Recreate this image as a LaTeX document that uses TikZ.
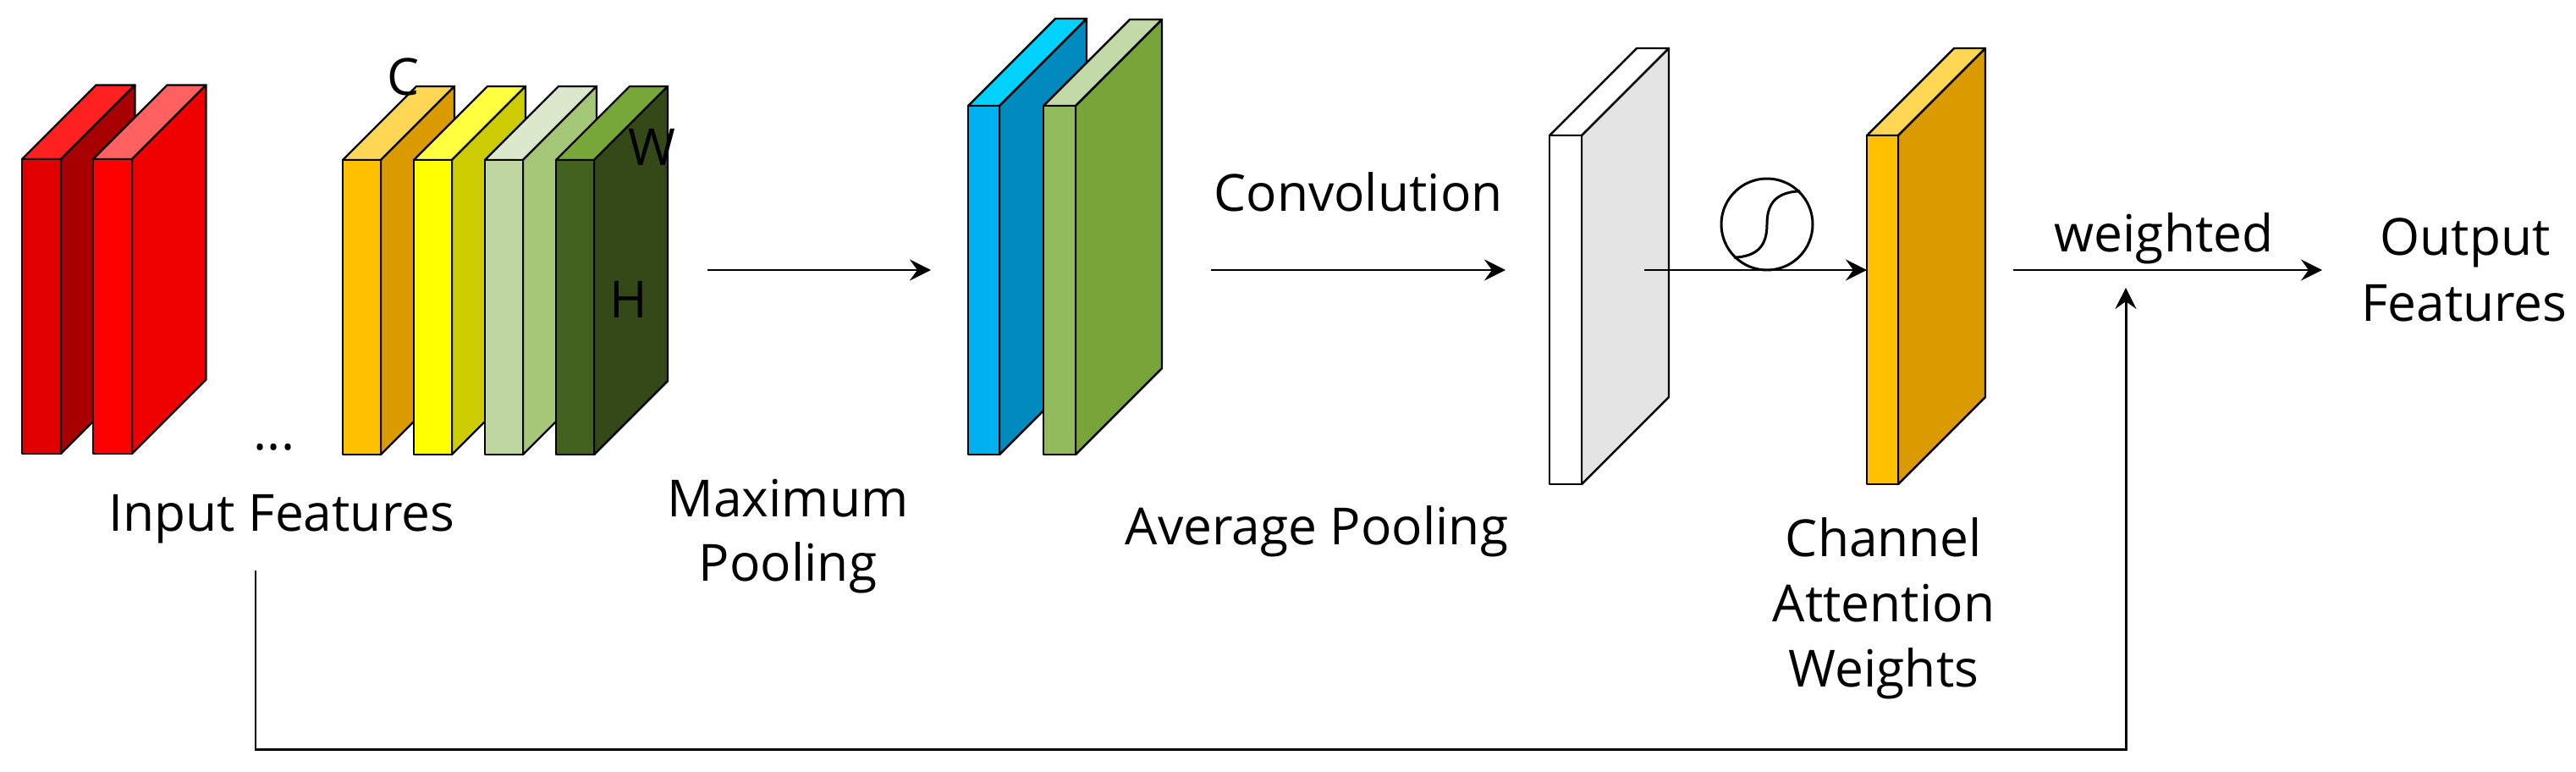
\documentclass[tikz,border=0pt]{standalone}
\usepackage{fontspec}
\setmainfont{Open Sans}
\usetikzlibrary{positioning,calc,arrows.meta}
\definecolor{rA}{RGB}{224,0,0}
\definecolor{rAs}{RGB}{168,0,0}
\definecolor{rAt}{RGB}{255,32,32}
\definecolor{rB}{RGB}{255,0,0}
\definecolor{rBs}{RGB}{238,0,0}
\definecolor{rBt}{RGB}{255,96,96}
\definecolor{oF}{RGB}{255,192,0}
\definecolor{oS}{RGB}{218,154,0}
\definecolor{oT}{RGB}{255,215,85}
\definecolor{yF}{RGB}{255,255,0}
\definecolor{yS}{RGB}{204,204,0}
\definecolor{yT}{RGB}{255,255,64}
\definecolor{lF}{RGB}{190,215,160}
\definecolor{lS}{RGB}{165,200,120}
\definecolor{lT}{RGB}{219,232,203}
\definecolor{gF}{RGB}{68,98,31}
\definecolor{gS}{RGB}{53,72,23}
\definecolor{gT}{RGB}{120,168,58}
\definecolor{bF}{RGB}{0,176,240}
\definecolor{bS}{RGB}{0,138,190}
\definecolor{bT}{RGB}{0,210,255}
\definecolor{mF}{RGB}{146,188,92}
\definecolor{mS}{RGB}{120,165,58}
\definecolor{mT}{RGB}{194,218,168}
\definecolor{wS}{RGB}{228,228,228}

% name, x, y of front bottom left, front width, height, depth, colours front/top/side
\newcommand{\slab}[9]{
  \draw[face,fill=#8] (#2+#6,#3+#5+#6) -- ++(#4,0) -- ++(-#6,-#6) -- ++(-#4,0) -- cycle;
  \draw[face,fill=#9] (#2+#4,#3) -- ++(#6,#6) -- ++(0,#5) -- ++(-#6,-#6) -- cycle;
  \node[face,fill=#7,minimum width=#4 cm,minimum height=#5 cm,anchor=south west,inner sep=0pt,outer sep=0pt] (#1) at (#2,#3) {};
}

\begin{document}
\begin{tikzpicture}[
  font=\fontsize{17.2pt}{21pt}\selectfont,
  face/.style={draw=black,line width=0.7pt,line join=round},
  lbl/.style={align=center,inner sep=0pt,anchor=base},
  flow/.style={-{Stealth[length=2.5mm,width=2.5mm,inset=0.9mm]},line width=0.85pt,draw=black},
]
\useasboundingbox (0,0) rectangle (30.44,9.11);

% ---- input feature slabs ----
\slab{redA}{0.26}{3.75}{0.46}{3.48}{0.875}{rA}{rAt}{rAs}
\slab{redB}{1.10}{3.75}{0.46}{3.48}{0.875}{rB}{rBt}{rBs}
\slab{orgA}{4.05}{3.74}{0.45}{3.48}{0.87}{oF}{oT}{oS}
\slab{yelA}{4.89}{3.74}{0.45}{3.48}{0.87}{yF}{yT}{yS}
\slab{lgrA}{5.73}{3.74}{0.45}{3.48}{0.87}{lF}{lT}{lS}
\slab{dgrA}{6.57}{3.74}{0.45}{3.48}{0.87}{gF}{gT}{gS}

% ---- pooled slabs ----
\slab{bluA}{11.44}{3.74}{0.37}{4.12}{1.03}{bF}{bT}{bS}
\slab{grnA}{12.33}{3.74}{0.38}{4.12}{1.02}{mF}{mT}{mS}

% ---- convolution output and weights ----
\slab{whtA}{18.31}{3.39}{0.38}{4.12}{1.03}{white}{white}{wS}
\slab{wgtA}{22.06}{3.39}{0.37}{4.12}{1.03}{oF}{oT}{oS}

% ---- labels ----
\node[lbl] (lC) at (4.77,7.99) {C};
\node[lbl] (lW) at (7.70,7.16) {W};
\node[lbl] (lH) at (7.43,5.36) {H};
\node[lbl] (dots) at (3.24,3.80) {...};
\node[lbl] (inp) at (3.33,2.84) {Input Features};
\node[lbl] (mp1) at (9.31,3.01) {Maximum};
\node[lbl] (mp2) at (9.31,2.25) {Pooling};
\node[lbl] (conv) at (16.05,6.62) {Convolution};
\node[lbl] (avg) at (15.56,2.68) {Average Pooling};
\node[lbl] (caw1) at (22.26,2.54) {Channel};
\node[lbl] (caw2) at (22.26,1.77) {Attention};
\node[lbl] (caw3) at (22.26,1.00) {Weights};
\node[lbl] (wtd) at (25.57,6.14) {weighted};
\node[lbl] (out1) at (29.13,6.10) {Output};
\node[lbl] (out2) at (29.12,5.32) {Features};

% ---- sigmoid symbol ----
\node[circle,draw,line width=0.85pt,minimum size=1.08cm,inner sep=0pt] (sig) at (20.88,6.46) {};
\draw[line width=0.85pt] (sig.225) .. controls (20.78,6.08) and (20.88,6.22) .. (sig.center) .. controls (20.88,6.70) and (20.98,6.84) .. (sig.45);

% ---- arrows ----
\coordinate (a1s) at (8.36,5.92);
\coordinate (a1e) at (11.00,5.92);
\coordinate (a2s) at (14.31,5.92);
\coordinate (a2e) at (17.79,5.92);
\coordinate (a3s) at (19.43,5.92);
\coordinate (a4s) at (23.79,5.92);
\coordinate (a4e) at (27.44,5.92);
\coordinate (fbs) at (3.02,2.37);
\coordinate (fbe) at (25.12,5.71);
\draw[flow] (a1s) -- (a1e);
\draw[flow] (a2s) -- (a2e);
\draw[flow] (a3s) -- (wgtA.west |- a3s);
\draw[flow] (a4s) -- (a4e);
\draw[flow] (fbs) |- (25.12,0.26) -- (fbe);

\end{tikzpicture}
\end{document}
